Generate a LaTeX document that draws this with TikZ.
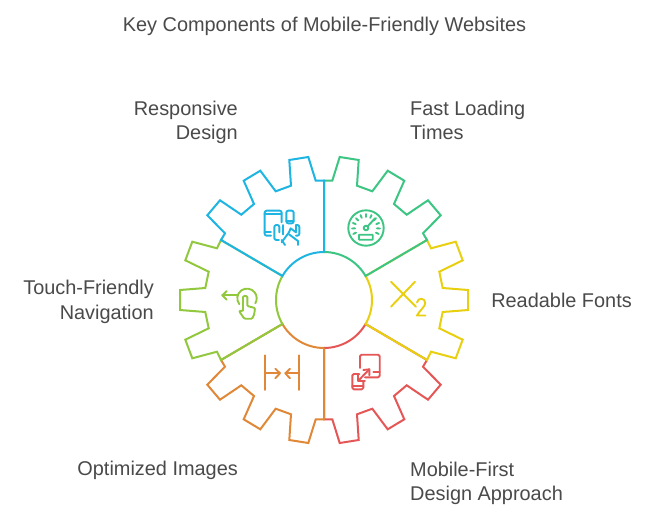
\documentclass[tikz,border=0pt]{standalone}
\usepackage{fontspec}
\setmainfont{Liberation Sans}
\definecolor{cblue}{HTML}{1FB5E2}
\definecolor{cgreen}{HTML}{3CC583}
\definecolor{cyellow}{HTML}{E8CF10}
\definecolor{clime}{HTML}{92C83E}
\definecolor{corange}{HTML}{E08838}
\definecolor{cred}{HTML}{E55757}
\definecolor{ctext}{HTML}{4A4A4A}
\tikzset{
 lab/.style={text=ctext,font=\fontsize{19.9}{24.4}\selectfont,inner sep=0pt},
 gearline/.style={line width=2pt,line join=miter},
 iconline/.style={line width=1.9pt,line join=round,line cap=round}
}
\newcommand{\cornergear}{(0,-48) -- (0,-119.3) -- (-8.3,-119.3) -- (-15.7,-143) -- (-34.7,-140) -- (-33,-114.3) -- (-48.3,-108.7) -- (-63.7,-129.3) -- (-80.3,-119.3) -- (-70,-96) -- (-82.7,-85.3) -- (-104,-99.7) -- (-116.7,-84.7) -- (-99,-66.7) -- (-103,-60) -- (-41.57,-24) arc[start angle=210,end angle=270,radius=48]}
\newcommand{\sidegear}{(-41.57,-24) -- (-103,-60) -- (-107,-51.7) -- (-131.7,-58.3) -- (-138.7,-39.7) -- (-115.3,-28.3) -- (-118.7,-12) -- (-144,-10) -- (-144,10) -- (-118.7,12) -- (-115.3,28.3) -- (-138.7,39.7) -- (-131.7,58.3) -- (-107,51.7) -- (-103,60) -- (-41.57,24) arc[start angle=150,end angle=210,radius=48]}
\begin{document}
\begin{tikzpicture}[x=1pt,y=-1pt]
\useasboundingbox (0,0) rectangle (648,517);
\fill[white] (0,0) rectangle (648,517);
% texts
\node[lab] (title) at (324.5,26) {Key Components of Mobile-Friendly Websites};
\node[lab,anchor=north east,align=right] (t1) at (238,100.5) {Responsive\\Design};
\node[lab,anchor=north west,align=left] (t2) at (410,100.5) {Fast Loading\\Times};
\node[lab,anchor=east] (t3) at (632,300.5) {Readable Fonts};
\node[lab,anchor=east,align=right] (t4) at (154,302) {Touch-Friendly\\Navigation};
\node[lab,anchor=east] (t5) at (238,470) {Optimized Images};
\node[lab,anchor=north west,align=left] (t6) at (410,461.5) {Mobile-First\\Design Approach};
% gear sectors, lowest first
\begin{scope}[shift={(324,300)}]
\draw[gearline,cred,xscale=-1,yscale=-1] \cornergear;
\draw[gearline,corange,yscale=-1] \cornergear;
\draw[gearline,cyellow,xscale=-1] \sidegear;
\draw[gearline,clime] \sidegear;
\draw[gearline,cgreen,xscale=-1] \cornergear;
\draw[gearline,cblue] \cornergear;
\end{scope}
% icon: responsive design
\begin{scope}[shift={(170,145)},x=0.3333pt,y=-0.3333pt,iconline,cblue]
\draw[rounded corners=2pt] (303,272) -- (284,272) -- (284,197) -- (335,197) -- (335,232);
\draw (284,207) -- (335,207);
\draw (284,262) -- (303,262);
\draw[rounded corners=2pt] (349,197) rectangle (371,235);
\draw (349,227) -- (371,227);
\draw[rounded corners=2pt] (327,285) -- (313,285) -- (313,240) -- (328,240) -- (328,262);
\draw (340,240) -- (340,268);
\draw[rounded corners=2pt] (378,240) -- (388,240) -- (388,272) -- (378,272);
\draw (378,240) -- (378,262) -- (362,250) -- (357,262);
\draw (335,292) -- (357,262);
\draw (335,285) -- (345,300);
\draw (357,268) -- (384,288) -- (384,300);
\end{scope}
% icon: fast loading
\begin{scope}[iconline,cgreen]
\draw (366,228) circle[radius=17.7];
\draw (366,228) circle[radius=2.3];
\draw (367.7,226.3) -- (375,218.3);
\foreach \a in {155,178,201,224,247,270,293,316,339,362,385}
  \draw (366,228) ++(\a:11) -- ++(\a:3);
\draw[rounded corners=0.5pt] (359,234.7) rectangle (372.7,239.7);
\end{scope}
% icon: readable fonts
\begin{scope}[iconline,cyellow]
\draw (391,281.7) -- (416,306.7);
\draw (415,281.7) -- (391,306.7);
\draw (417,302.5) .. controls (417.5,297.5) and (425.3,297.5) .. (425.3,303) .. controls (425.3,306.5) and (420,310) .. (417,315.5) -- (425.5,315.5);
\end{scope}
% icon: mobile first
\begin{scope}[iconline,cred]
\draw[rounded corners=1.5pt] (360,368) -- (360,354.7) -- (379.7,354.7) -- (379.7,377.3) -- (365,377.3);
\draw (373.3,372.3) -- (379.7,372.3);
\draw[rounded corners=1.5pt] (359.3,374) -- (352.3,374) -- (352.3,389.3) -- (363.3,389.3) -- (363.3,381.7);
\draw (352.3,386) -- (363.3,386);
\draw (358.3,380.7) -- (369.3,369.3);
\draw (363.3,370) -- (369.3,369.3) -- (369.3,375.3);
\draw (358.3,374) -- (358.3,380.7) -- (365,380.7);
\end{scope}
% icon: optimized images
\begin{scope}[iconline,corange]
\draw (264.7,355.3) -- (264.7,390);
\draw (299.3,355.3) -- (299.3,390);
\draw (264.7,373.3) -- (280,373.3);
\draw (275.3,368.7) -- (280,373.3) -- (275.3,378.3);
\draw (299.3,373.3) -- (285.3,373.3);
\draw (290,368.7) -- (285.3,373.3) -- (290,378.3);
\end{scope}
% icon: touch navigation
\begin{scope}[iconline,clime]
\draw (237.7,295.3) -- (222.3,295.3);
\draw (226.7,291) -- (222.3,295.3) -- (226.7,299.7);
\draw (247,298.3) ++(143:9.7) arc[start angle=143,end angle=391,radius=9.7];
\draw[rounded corners=1pt] (243,310.7) -- (243,298) arc[start angle=180,end angle=360,radius=2.15] -- (247.3,306) -- (255,308) -- (254.3,314) -- (252.3,318.7) -- (244.3,318.7) -- (239,311) -- (243,310.7);
\end{scope}
\end{tikzpicture}
\end{document}
